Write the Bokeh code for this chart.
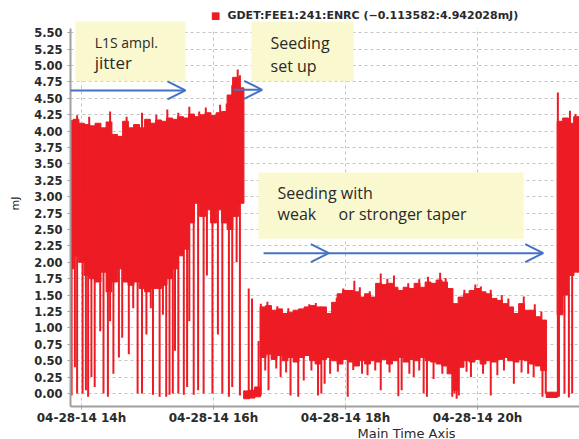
import pandas as pd
from bokeh.plotting import figure
from bokeh.models import (Range1d, FixedTicker, NumeralTickFormatter,
                          DatetimeTickFormatter, BoxAnnotation, Label, Arrow, OpenHead, Title)
from bokeh.embed import file_html
from bokeh.resources import INLINE

DAY = "2014-04-28 "
RED = "#ED1C24"
BLUE = "#4472C4"
BOXC = "#FAF8CE"
TXT = "#2a2a2a"

# ---- data: GDET:FEE1:241:ENRC envelope, 5-minute columns starting 13:50 ----
col_first = "13:50"
col_hi = [4.16, 4.18, 4.12, 4.10, 4.08, 4.12, 4.05, 4.14, 3.95, 3.92,
          4.15, 4.05, 4.10, 4.05, 4.18, 4.12, 4.17, 4.15, 4.20, 4.18,
          4.22, 4.20, 4.26, 4.22, 4.25, 4.28, 4.24, 4.28, 4.30, 4.55,
          4.82, 4.66, 0.04, 0.05, 0.10, 1.32, 1.34, 1.27, 1.29, 1.22,
          1.24, 1.27, 1.29, 1.32, 1.34, 1.32, 1.32, 1.22, 1.39, 1.52,
          1.57, 1.57, 1.55, 1.47, 1.52, 1.47, 1.68, 1.66, 1.68, 1.62,
          1.57, 1.62, 1.60, 1.68, 1.62, 1.70, 1.68, 1.73, 1.70, 1.60,
          1.37, 1.47, 1.52, 1.57, 1.60, 1.55, 1.52, 1.45, 1.42, 1.37,
          1.32, 1.22, 1.37, 1.27, 1.27, 1.17, 1.12, 0.02, 0.02, 4.15,
          4.20, 4.12, 4.22, 4.18]
col_lo = [1.90, 2.10, 2.00, 1.80, 1.75, 1.70, 1.85, 1.55, 1.70, 1.90,
          1.70, 1.65, 1.70, 1.60, 1.55, 1.60, 1.60, 1.65, 1.75, 1.90,
          2.10, 2.20, 2.60, 2.90, 2.70, 2.80, 2.60, 2.80, 2.60, 2.50,
          2.70, 2.90, -0.08, -0.07, -0.05, 0.55, 0.60, 0.52, 0.58, 0.50,
          0.55, 0.48, 0.55, 0.58, 0.50, 0.45, 0.52, 0.55, 0.50, 0.45,
          0.52, 0.48, 0.42, 0.50, 0.45, 0.50, 0.48, 0.52, 0.45, 0.50,
          0.55, 0.48, 0.52, 0.50, 0.55, 0.50, 0.48, 0.45, 0.42, 0.30,
          0.05, 0.40, 0.50, 0.48, 0.52, 0.45, 0.50, 0.48, 0.52, 0.55,
          0.50, 0.48, 0.52, 0.50, 0.45, 0.42, 0.35, -0.06, -0.06, 1.20,
          1.50, 1.80, 1.85, 1.85]

# dropouts from the high-energy periods (L1S jitter / no seeding)
drop_high_time = ["13:51", "13:54", "13:56", "14:01", "14:04", "14:06", "14:09", "14:12",
                  "14:17", "14:20", "14:24", "14:26", "14:29", "14:34", "14:37", "14:43",
                  "14:47", "14:51", "14:55", "14:59", "15:03", "15:05", "15:11", "15:14",
                  "15:17", "15:20", "15:23", "15:25", "15:28", "15:33", "15:36", "15:38",
                  "15:42", "15:46", "15:51", "15:54", "15:59", "16:04", "16:08", "16:14",
                  "16:17", "16:21", "16:24", "21:14", "21:19", "21:23", "21:26"]
drop_high_val = [-0.03, 0.40, 0.00, 0.00, 0.05, -0.05, 0.25, 0.10,
                 0.95, 0.00, -0.05, 1.10, 0.30, 0.55, 0.85, 0.60,
                 1.30, 0.00, 0.00, 0.90, 1.30, -0.02, -0.05, 1.20,
                 -0.05, -0.02, 0.00, 0.65, 0.00, -0.02, 0.10, 1.10,
                 -0.02, 0.05, 0.00, 1.80, 0.00, 0.90, 0.00, -0.05,
                 0.10, 2.00, -0.03, -0.05, 0.00, -0.06, 0.00]

# dropouts during the seeding period
drop_seed_time = ["16:47", "16:50", "16:57", "17:01", "17:06", "17:10", "17:17", "17:22",
                  "17:29", "17:35", "17:38", "17:41", "17:46", "17:53", "18:02", "18:07",
                  "18:15", "18:20", "18:27", "18:32", "18:40", "18:48", "18:51", "18:58",
                  "19:02", "19:07", "19:11", "19:14", "19:20", "19:28", "19:37", "19:39",
                  "19:41", "19:43", "19:50", "19:54", "20:05", "20:12", "20:18", "20:24",
                  "20:33", "20:40", "20:46", "20:51", "20:59", "21:02"]
drop_seed_val = [0.35, 0.05, 0.38, 0.25, 0.32, -0.03, -0.05, 0.20,
                 0.35, -0.03, 0.00, 0.15, 0.30, 0.33, -0.05, 0.36,
                 0.30, 0.28, 0.35, 0.05, 0.32, -0.04, 0.05, 0.30,
                 0.25, 0.35, 0.00, -0.05, 0.22, 0.30, -0.05, 0.00,
                 -0.08, -0.03, 0.33, 0.25, 0.30, -0.03, 0.28, 0.35,
                 0.15, 0.32, 0.30, 0.25, -0.05, 0.00]

# upward excursions
up_high_time = ["13:56", "14:07", "14:26", "14:41", "14:55", "15:08", "15:18", "15:28",
                "15:38", "15:47", "15:53", "16:06", "16:12", "16:17", "16:22", "16:24",
                "21:24", "21:29"]
up_high_val = [4.24, 4.22, 4.30, 4.22, 4.28, 4.25, 4.33, 4.28,
               4.37, 4.30, 4.36, 4.40, 4.42, 4.70, 4.94, 4.85,
               4.31, 4.26]
up_seed_time = ["16:49", "16:58", "17:08", "17:27", "17:33", "17:52", "17:58", "18:08",
                "18:13", "18:22", "18:32", "18:38", "18:44", "18:57", "19:07", "19:15",
                "19:26", "19:31", "19:48", "19:58", "20:03", "20:12", "20:22", "20:28",
                "20:42", "20:52", "20:58"]
up_seed_val = [1.40, 1.33, 1.30, 1.36, 1.38, 1.46, 1.60, 1.72,
               1.62, 1.56, 1.83, 1.75, 1.80, 1.68, 1.74, 1.78,
               1.84, 1.76, 1.58, 1.66, 1.63, 1.58, 1.50, 1.45,
               1.48, 1.36, 1.25]
up_low_time = ["16:32", "16:35", "16:41", "16:43", "21:13"]
up_low_val = [1.60, 1.45, 0.80, 1.37, 4.59]

x_ticks = ["14:00", "16:00", "18:00", "20:00"]
y_ticks = [0.0, 0.25, 0.5, 0.75, 1.0, 1.25, 1.5, 1.75, 2.0, 2.25, 2.5, 2.75,
           3.0, 3.25, 3.5, 3.75, 4.0, 4.25, 4.5, 4.75, 5.0, 5.25, 5.5]
legend_text = "GDET:FEE1:241:ENRC (\u22120.113582:4.942028mJ)"

Y_AXIS_TOP = 5.564   # top of the plotted value axis


def ts(s):
    return pd.Timestamp(DAY + s)


def ms(s):
    return ts(s).value / 1e6


def times(lst):
    return pd.to_datetime([DAY + s for s in lst])


col_time = pd.date_range(ts(col_first), periods=len(col_hi), freq="5min")

p = figure(width=579, height=439, x_axis_type="datetime", output_backend="svg",
           toolbar_location=None, title=None,
           x_range=Range1d(ts("13:50"), ts("21:32:40")),
           y_range=Range1d(-0.198, 5.991),
           min_border_left=70, min_border_right=0, min_border_top=0, min_border_bottom=33)
p.outline_line_color = None
p.background_fill_color = "white"
p.border_fill_color = "white"

# grid
p.xgrid.ticker = FixedTicker(ticks=[ms(t) for t in x_ticks])
p.ygrid.ticker = FixedTicker(ticks=y_ticks)
for g in (p.xgrid, p.ygrid):
    g.grid_line_color = "#c4c4c4"
    g.grid_line_dash = "3 3"
    g.grid_line_width = 1
# blank strip above the value axis (holds the legend)
p.add_layout(BoxAnnotation(bottom=Y_AXIS_TOP, top=7.0, fill_color="white", fill_alpha=1,
                           line_color=None, level="underlay"))

# data
p.vbar(x=col_time, top=col_hi, bottom=col_lo, width=5.3 * 60 * 1000,
       fill_color=RED, line_color=RED, line_width=1)
p.segment(x0=times(drop_high_time), y0=[3.0] * len(drop_high_time),
          x1=times(drop_high_time), y1=drop_high_val, line_color=RED, line_width=2)
p.segment(x0=times(drop_seed_time), y0=[0.7] * len(drop_seed_time),
          x1=times(drop_seed_time), y1=drop_seed_val, line_color=RED, line_width=2)
p.segment(x0=times(up_high_time), y0=[3.5] * len(up_high_time),
          x1=times(up_high_time), y1=up_high_val, line_color=RED, line_width=2)
p.segment(x0=times(up_seed_time), y0=[0.9] * len(up_seed_time),
          x1=times(up_seed_time), y1=up_seed_val, line_color=RED, line_width=2)
p.segment(x0=times(up_low_time), y0=[-0.03] * len(up_low_time),
          x1=times(up_low_time), y1=up_low_val, line_color=RED, line_width=2)

# axes
xa, ya = p.xaxis[0], p.yaxis[0]
xa.ticker = FixedTicker(ticks=[ms(t) for t in x_ticks])
fmt = "%m-%d-%y %Hh"
xa.formatter = DatetimeTickFormatter(hours=fmt, hourmin=fmt, minutes=fmt, minsec=fmt,
                                     days=fmt, months=fmt, years=fmt)
ya.ticker = FixedTicker(ticks=y_ticks)
ya.formatter = NumeralTickFormatter(format="0.00")
ya.bounds = (-0.198, Y_AXIS_TOP)
ya.axis_label = "mJ"
ya.axis_label_text_font = "DejaVu Sans"
ya.axis_label_text_font_size = "11px"
ya.axis_label_text_font_style = "normal"
ya.axis_label_text_color = TXT
ya.axis_label_standoff = 9
for a in (xa, ya):
    a.axis_line_color = "#a0a0a0"
    a.axis_line_width = 2
    a.major_tick_line_color = "#a0a0a0"
    a.major_tick_out = 3
    a.major_tick_in = 0
    a.minor_tick_line_color = None
    a.major_label_text_font = "DejaVu Sans"
    a.major_label_text_font_style = "bold"
    a.major_label_text_color = TXT
ya.major_label_text_font_size = "11.5px"
xa.major_label_text_font_size = "12px"
ya.major_label_standoff = 5
xa.major_label_standoff = 1

# x-axis title (sits right of centre, as in the source screenshot)
p.add_layout(Title(text="Main Time Axis", align="left", offset=287,
                   text_font="DejaVu Sans", text_font_size="13px",
                   text_font_style="normal", text_color=TXT, standoff=-8), "below")


def lab(text, t, v, size, font="Open Sans", style="normal", align="left", color=TXT):
    p.add_layout(Label(x=ms(t), y=v, text=text, text_font=font, text_font_size=size,
                       text_font_style=style, text_align=align, text_baseline="middle",
                       text_color=color))


# legend
lab("\u25A0", "16:02", 5.76, "10px", font="DejaVu Sans", align="center", color=RED)
lab(legend_text, "16:12:40", 5.76, "11px", font="DejaVu Sans", style="bold")

# annotation boxes
for l, r, b, t in [("13:54:30", "15:34:30", 4.76, 5.67),
                   ("16:34:30", "18:07:20", 4.76, 5.67),
                   ("16:40:50", "20:41:50", 2.36, 3.37)]:
    p.add_layout(BoxAnnotation(left=ms(l), right=ms(r), bottom=b, top=t,
                               fill_color=BOXC, fill_alpha=1, line_color=None))

lab("L1S ampl.", "14:12:00", 5.35, "14px")
lab("jitter", "14:12:00", 5.05, "17px")
lab("Seeding", "16:51:50", 5.34, "16px")
lab("set up", "16:51:50", 4.99, "16px")
lab("Seeding with", "16:58:10", 3.06, "16px")
lab("weak", "16:58:10", 2.73, "16px")
lab("or stronger taper", "17:53:40", 2.73, "16px")

# arrows
for x0, x1, y in [("13:42:40", "15:34:30", 4.62),
                  ("16:18:30", "16:44:10", 4.63),
                  ("16:45:30", "17:44:50", 2.14),
                  ("17:44:50", "20:59:40", 2.14)]:
    p.add_layout(Arrow(end=OpenHead(size=18, line_color=BLUE, line_width=2),
                       x_start=ms(x0), y_start=y, x_end=ms(x1), y_end=y,
                       line_color=BLUE, line_width=2))

open("out.html", "w").write(file_html(p, INLINE))
